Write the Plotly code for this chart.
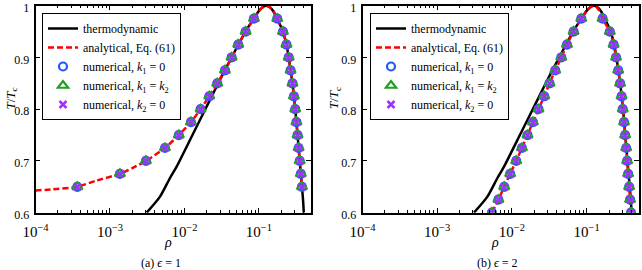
import plotly.graph_objects as go

# ---------------- data ----------------
# thermodynamic curve (same in both panels)
rho_thermo = [3.11e-3, 4.7e-3, 6.4e-3, 7.85e-3, 0.0131, 0.022, 0.035, 0.043, 0.053, 0.066,
              0.085, 0.10, 0.112, 0.125, 0.14, 0.155, 0.176, 0.210, 0.234, 0.251, 0.266,
              0.282, 0.295, 0.307, 0.319, 0.330, 0.341, 0.353, 0.365, 0.378, 0.386, 0.393, 0.40]
T_thermo = [0.6, 0.631, 0.667, 0.689, 0.753, 0.818, 0.876, 0.9, 0.925, 0.95,
            0.975, 0.99, 0.997, 1.0, 0.997, 0.99, 0.975, 0.95, 0.925, 0.9, 0.875,
            0.85, 0.825, 0.8, 0.775, 0.75, 0.725, 0.7, 0.675, 0.65, 0.635, 0.62, 0.6]

# panel (a) epsilon = 1 : analytical curve
rho_an_a = [1.0e-4, 1.7e-4, 3.64e-4, 6.6e-4, 1.36e-3, 2.05e-3, 3.04e-3, 5.47e-3, 8.4e-3, 0.01222,
            0.01648, 0.02153, 0.02754, 0.035, 0.043, 0.0527, 0.0663, 0.0857, 0.10, 0.112,
            0.125, 0.14, 0.155, 0.176, 0.210, 0.234, 0.251, 0.266, 0.282, 0.295, 0.307,
            0.319, 0.330, 0.341, 0.353, 0.365, 0.378, 0.383]
T_an_a = [0.643, 0.645, 0.65, 0.662, 0.675, 0.687, 0.70, 0.725, 0.75, 0.775,
          0.80, 0.825, 0.85, 0.875, 0.9, 0.925, 0.95, 0.975, 0.99, 0.997,
          1.0, 0.997, 0.99, 0.975, 0.95, 0.925, 0.9, 0.875, 0.85, 0.825, 0.8,
          0.775, 0.75, 0.725, 0.7, 0.675, 0.65, 0.643]

# panel (a) numerical points (same for k1=0, k1=k2, k2=0)
rho_num_a = [3.64e-4, 1.36e-3, 3.04e-3, 5.47e-3, 8.4e-3, 0.01222, 0.01648, 0.02153, 0.02754,
             0.035, 0.043, 0.0527, 0.0663, 0.0857,
             0.176, 0.210, 0.234, 0.251, 0.266, 0.282, 0.295, 0.307, 0.319, 0.330,
             0.341, 0.353, 0.365, 0.378]
T_num_a = [0.65, 0.675, 0.70, 0.725, 0.75, 0.775, 0.80, 0.825, 0.85, 0.875, 0.9, 0.925, 0.95, 0.975,
           0.975, 0.95, 0.925, 0.9, 0.875, 0.85, 0.825, 0.8, 0.775, 0.75, 0.725, 0.7, 0.675, 0.65]

# panel (b) epsilon = 2 : analytical curve
rho_an_b = [5.4e-3, 6.6e-3, 7.89e-3, 9.48e-3, 0.01142, 0.01362, 0.01619, 0.0191, 0.0227, 0.0271,
            0.0319, 0.038, 0.0458, 0.0546, 0.067, 0.0849, 0.10, 0.112, 0.124, 0.137, 0.148,
            0.1638, 0.2047, 0.230, 0.248, 0.265, 0.281, 0.294, 0.305, 0.317, 0.328, 0.339,
            0.349, 0.360, 0.371, 0.382, 0.393]
T_an_b = [0.6, 0.625, 0.65, 0.675, 0.70, 0.725, 0.75, 0.775, 0.80, 0.825,
          0.85, 0.875, 0.9, 0.925, 0.95, 0.975, 0.99, 0.997, 1.0, 0.997, 0.99,
          0.975, 0.95, 0.925, 0.9, 0.875, 0.85, 0.825, 0.8, 0.775, 0.75, 0.725,
          0.7, 0.675, 0.65, 0.625, 0.6]

rho_num_b = [5.4e-3, 6.6e-3, 7.89e-3, 9.48e-3, 0.01142, 0.01362, 0.01619, 0.0191, 0.0227, 0.0271,
             0.0319, 0.038, 0.0458, 0.0546, 0.067, 0.0849,
             0.1638, 0.2047, 0.230, 0.248, 0.265, 0.281, 0.294, 0.305, 0.317, 0.328, 0.339,
             0.349, 0.360, 0.371, 0.382, 0.393]
T_num_b = [0.6, 0.625, 0.65, 0.675, 0.70, 0.725, 0.75, 0.775, 0.80, 0.825, 0.85, 0.875, 0.9,
           0.925, 0.95, 0.975,
           0.975, 0.95, 0.925, 0.9, 0.875, 0.85, 0.825, 0.8, 0.775, 0.75, 0.725, 0.7, 0.675,
           0.65, 0.625, 0.6]

series_names = ["thermodynamic", "analytical, Eq. (61)",
                "numerical, <i>k</i><sub>1</sub> = 0",
                "numerical, <i>k</i><sub>1</sub> = <i>k</i><sub>2</sub>",
                "numerical, <i>k</i><sub>2</sub> = 0"]
y_ticks = [0.6, 0.7, 0.8, 0.9, 1.0]
y_ticklabels = ["0.6", "0.7", "0.8", "0.9", "1"]
captions = ["(a) <i>ϵ</i> = 1", "(b) <i>ϵ</i> = 2"]

# ---------------- figure ----------------
W, H = 642, 270
FONT = "Liberation Serif"
fig = go.Figure()

panels = [
    (rho_an_a, T_an_a, rho_num_a, T_num_a, "x", "y", "legend"),
    (rho_an_b, T_an_b, rho_num_b, T_num_b, "x2", "y2", "legend2"),
]
for rho_an, T_an, rho_num, T_num, xa, ya, lg in panels:
    fig.add_trace(go.Scatter(x=rho_thermo, y=T_thermo, mode="lines", name=series_names[0],
                             line=dict(color="black", width=2.5, shape="spline", smoothing=0.6),
                             xaxis=xa, yaxis=ya, legend=lg))
    fig.add_trace(go.Scatter(x=rho_an, y=T_an, mode="lines", name=series_names[1],
                             line=dict(color="#ff0000", width=2.5, dash="6px,3px",
                                       shape="spline", smoothing=0.6),
                             xaxis=xa, yaxis=ya, legend=lg))
    fig.add_trace(go.Scatter(x=rho_num, y=T_num, mode="markers", name=series_names[2],
                             marker=dict(symbol="circle-open", size=8, color="#2255ff",
                                         line=dict(width=2.2, color="#2255ff")),
                             xaxis=xa, yaxis=ya, legend=lg))
    fig.add_trace(go.Scatter(x=rho_num, y=T_num, mode="markers", name=series_names[3],
                             marker=dict(symbol="triangle-up-open", size=9, color="#22a022",
                                         line=dict(width=2.2, color="#22a022")),
                             xaxis=xa, yaxis=ya, legend=lg))
    fig.add_trace(go.Scatter(x=rho_num, y=T_num, mode="markers", name=series_names[4],
                             marker=dict(symbol="x-thin", size=7, color="#9933ff",
                                         line=dict(width=2.5, color="#9933ff")),
                             xaxis=xa, yaxis=ya, legend=lg))

ydom = [1 - 212.7 / H, 1 - 5.7 / H]
xdoms = [[35.5 / W, 311 / W], [362.5 / W, 638.8 / W]]

axis_common = dict(showline=True, linecolor="black", linewidth=1.5, mirror="allticks",
                   ticks="inside", tickcolor="black", ticklen=5, tickwidth=1,
                   showgrid=False, zeroline=False, ticklabeloverflow="allow",
                   tickfont=dict(family=FONT, size=12, color="black"))

xcfg = dict(type="log", range=[-4, -0.30103], dtick=1, exponentformat="power",
            ticklabelstandoff=5,
            minor=dict(ticks="inside", ticklen=3, tickcolor="black", showgrid=False),
            **axis_common)
ycfg = dict(range=[0.5999, 1.0001], tickvals=y_ticks, ticktext=y_ticklabels,
            ticklabelstandoff=2, ticklabelshift=2, **axis_common)

legend_common = dict(bgcolor="white", bordercolor="black", borderwidth=1,
                     font=dict(family=FONT, size=12, color="black"),
                     xanchor="left", yanchor="top", tracegroupgap=0, itemwidth=30)

fig.update_layout(
    width=W, height=H, margin=dict(l=0, r=0, t=0, b=0, autoexpand=False),
    paper_bgcolor="white", plot_bgcolor="white",
    font=dict(family=FONT, size=13, color="black"),
    xaxis=dict(domain=xdoms[0], anchor="y", **xcfg),
    yaxis=dict(domain=ydom, anchor="x", **ycfg),
    xaxis2=dict(domain=xdoms[1], anchor="y2", **xcfg),
    yaxis2=dict(domain=ydom, anchor="x2", **ycfg),
    legend=dict(x=42 / W, y=1 - 13 / H, **legend_common),
    legend2=dict(x=370 / W, y=1 - 13 / H, **legend_common),
    showlegend=True,
)

anns = []
for i in range(2):
    anns.append(dict(x=[168, 495][i] / W, y=1 - 242 / H, xref="paper", yref="paper",
                     xanchor="center", yanchor="middle",
                     text="<i>ρ</i>", showarrow=False,
                     font=dict(family=FONT, size=14, color="black")))
    anns.append(dict(x=[160.8, 497.5][i] / W, y=1 - 262.5 / H, xref="paper", yref="paper",
                     xanchor="center", yanchor="middle",
                     text=captions[i], showarrow=False,
                     font=dict(family=FONT, size=12, color="black")))
    anns.append(dict(x=[11.5, 335][i] / W, y=1 - 98 / H, xref="paper", yref="paper",
                     xanchor="center", yanchor="middle",
                     text="<i>T</i>/<i>T</i><sub>c</sub>", showarrow=False, textangle=-90,
                     font=dict(family=FONT, size=13, color="black")))
fig.update_layout(annotations=anns)

fig.write_html("out.html", config={"displayModeBar": False},
               post_script="document.body.style.margin='0px';")
